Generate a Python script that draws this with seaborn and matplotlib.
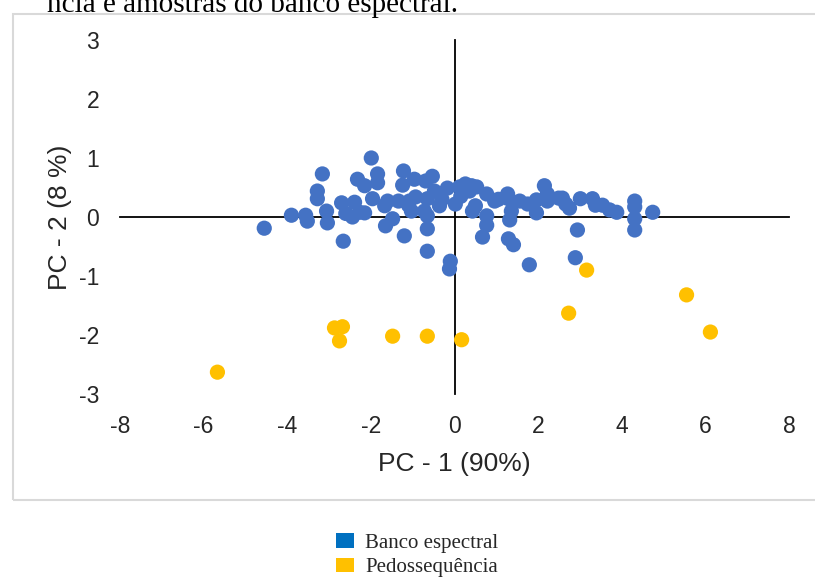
import matplotlib
matplotlib.use("Agg")
import matplotlib.pyplot as plt
import seaborn as sns
import pandas as pd
from matplotlib.patches import Patch, Rectangle

# ---- data ----
banco_pc1 = [-4.55, -3.90, -3.56, -3.52, -3.28, -3.28, -3.16, -3.06, -3.04, -2.66,
             -2.70, -2.32, -2.39, -2.44, -2.15, -1.99, -1.84, -1.84, -1.96, -2.27,
             -2.15, -1.67, -1.60, -1.65, -1.48, -1.34, -1.22, -1.24, -1.20, -1.08,
             -0.96, -0.93, -1.03, -0.69, -0.53, -0.65, -0.72, -0.65, -0.65, -0.65,
             -0.48, -0.36, -0.17, 0.02, -0.10, -0.12, 0.12, 0.26, 0.41, 0.53,
             0.36, 0.50, 0.43, 0.77, 0.77, 0.77, 0.67, 0.96, 1.27, 1.29,
             1.36, 1.32, 1.29, 1.41, 1.56, 1.75, 1.96, 1.96, 1.79, 2.15,
             2.22, 2.22, 2.49, 2.58, 2.66, 2.75, 2.89, 2.94, 3.01, 3.30,
             3.37, 3.54, 3.71, 3.88, 4.31, 4.31, 4.31, 4.31, 4.74, -2.60,
             -1.10, -0.30, 0.15, 1.05]
banco_pc2 = [-0.19, 0.03, 0.03, -0.07, 0.44, 0.31, 0.73, 0.10, -0.10, -0.41,
             0.24, 0.64, 0.25, 0.00, 0.53, 1.00, 0.73, 0.58, 0.31, 0.08,
             0.07, 0.19, 0.27, -0.15, -0.03, 0.27, 0.78, 0.54, -0.32, 0.27,
             0.64, 0.34, 0.10, 0.61, 0.69, 0.31, 0.10, 0.02, -0.20, -0.58,
             0.44, 0.19, 0.49, 0.22, -0.75, -0.88, 0.51, 0.56, 0.53, 0.51,
             0.44, 0.19, 0.10, 0.39, 0.02, -0.14, -0.34, 0.27, 0.39, 0.31,
             0.10, -0.05, -0.37, -0.47, 0.27, 0.22, 0.29, 0.07, -0.81, 0.53,
             0.39, 0.27, 0.32, 0.32, 0.22, 0.15, -0.69, -0.22, 0.31, 0.31,
             0.20, 0.20, 0.12, 0.08, 0.27, 0.17, -0.03, -0.22, 0.08, 0.06,
             0.20, 0.30, 0.35, 0.30]
pedo_pc1 = [-5.67, -2.87, -2.68, -2.75, -1.48, -0.65, 0.17, 2.73, 3.16, 5.55, 6.12]
pedo_pc2 = [-2.63, -1.88, -1.86, -2.10, -2.02, -2.02, -2.08, -1.63, -0.90, -1.32, -1.95]

series_names = ["Banco espectral", "Pedossequência"]
x_ticks = [-8, -6, -4, -2, 0, 2, 4, 6, 8]
x_tick_labels = ["-8", "-6", "-4", "-2", "0", "2", "4", "6", "8"]
y_ticks = [-3, -2, -1, 0, 1, 2, 3]
y_tick_labels = ["-3", "-2", "-1", "0", "1", "2", "3"]
x_title = "PC - 1 (90%)"
y_title = "PC - 2 (8 %)"
caption = "ncia e amostras do banco espectral."

df = pd.DataFrame({
    "pc1": banco_pc1 + pedo_pc1,
    "pc2": banco_pc2 + pedo_pc2,
    "grupo": [series_names[0]] * len(banco_pc1) + [series_names[1]] * len(pedo_pc1),
})

sns.set_style("white")
plt.rcParams["font.family"] = ["Liberation Sans", "DejaVu Sans"]
plt.rcParams["axes.unicode_minus"] = False

W, H = 815, 577
fig = plt.figure(figsize=(W / 100, H / 100), dpi=100)
fig.patch.set_facecolor("white")

# outer chart box (light gray border, right side runs off the image)
fig.patches.append(Rectangle((13 / W, 1 - 500 / H), 900 / W, (500 - 14) / H,
                             transform=fig.transFigure, fill=False,
                             edgecolor="#D9D9D9", linewidth=1.5))

# caption fragment at the top (cut off by the image edge, as in the reference)
fig.text(47 / W, 1 - 12 / H, caption, family=["Liberation Serif", "DejaVu Serif"],
         fontsize=21, va="baseline", ha="left", color="black")

ax = fig.add_axes([120 / W, 1 - 394 / H, (789 - 120) / W, (394 - 40) / H])
ax.set_facecolor("none")

palette = {series_names[0]: "#4472C4", series_names[1]: "#FFC000"}
sns.scatterplot(data=df, x="pc1", y="pc2", hue="grupo", palette=palette,
                s=120, edgecolor="none", linewidth=0, legend=False, ax=ax, zorder=3)

ax.set_xlim(-8, 8)
ax.set_ylim(-3, 3)
ax.set_xlabel("")
ax.set_ylabel("")
for side in ["top", "right"]:
    ax.spines[side].set_visible(False)
ax.spines["left"].set_position(("data", 0))
ax.spines["bottom"].set_position(("data", 0))
for side in ["left", "bottom"]:
    ax.spines[side].set_color("black")
    ax.spines[side].set_linewidth(1.3)
    ax.spines[side].set_zorder(2)
ax.set_xticks(x_ticks)
ax.set_yticks(y_ticks)
ax.tick_params(axis="both", direction="out", length=5, width=1.3, color="black",
               labelbottom=False, labelleft=False)
ax.grid(False)

# tick labels at the plot edges (Excel style "low" labels)
secx = ax.secondary_xaxis(0.0)
secx.set_xticks(x_ticks, labels=x_tick_labels)
secx.tick_params(length=0, pad=15, labelsize=16.5)
for sp in secx.spines.values():
    sp.set_visible(False)
secx.set_xlabel(x_title, fontsize=19, labelpad=10)

secy = ax.secondary_yaxis(0.0)
secy.set_yticks(y_ticks, labels=y_tick_labels)
secy.tick_params(length=0, pad=15, labelsize=16.5)
for sp in secy.spines.values():
    sp.set_visible(False)
secy.set_ylabel(y_title, fontsize=19, labelpad=5)

# legend below the chart box
handles = [Patch(facecolor="#0070C0", edgecolor="none"),
           Patch(facecolor="#FFC000", edgecolor="none")]
fig.legend(handles, series_names, loc="upper left",
           bbox_to_anchor=(336 / W, 1 - 533 / H), frameon=False,
           prop={"family": ["Liberation Serif", "DejaVu Serif"], "size": 15},
           handlelength=0.85, handleheight=0.7, handletextpad=0.55,
           labelspacing=0.25, borderpad=0, borderaxespad=0)

fig.savefig("out.png", dpi=100)
